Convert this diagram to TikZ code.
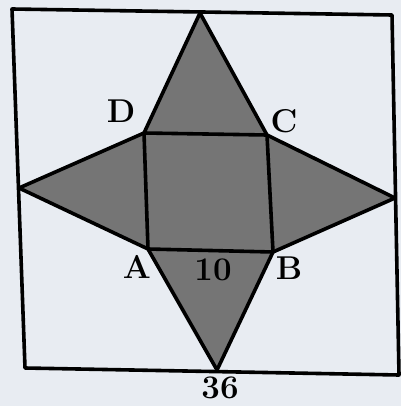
\documentclass[tikz,border=0pt]{standalone}
\usepackage{fontspec}
\usepackage{xcolor}
\definecolor{bgc}{HTML}{E8ECF2}
\definecolor{starfill}{HTML}{757575}
\tikzset{
  edge/.style={draw=black, line width=3.6pt, line join=round},
  lbl/.style={font=\fontsize{33}{36}\selectfont\bfseries, inner sep=0pt}
}
\begin{document}
\begin{tikzpicture}[x=1pt,y=-1pt]
\fill[bgc] (0,0) rectangle (401,406);
\useasboundingbox (0,0) rectangle (401,406);
% outer square corners
\coordinate (TL) at (12,9);
\coordinate (TR) at (392,15);
\coordinate (BR) at (399,375);
\coordinate (BL) at (25,368);
% star vertices
\coordinate (T) at (200,13);
\coordinate (L) at (19,188);
\coordinate (R) at (395,198);
\coordinate (Bt) at (217,370);
% inner square
\coordinate (D) at (144,133);
\coordinate (C) at (267,135);
\coordinate (A) at (148,249);
\coordinate (B) at (273,252);
\draw[edge] (TL) -- (TR) -- (BR) -- (BL) -- cycle;
\fill[starfill] (T) -- (C) -- (R) -- (B) -- (Bt) -- (A) -- (L) -- (D) -- cycle;
\draw[edge] (T) -- (C) -- (R) -- (B) -- (Bt) -- (A) -- (L) -- (D) -- cycle;
\draw[edge] (D) -- (C) -- (B) -- (A) -- cycle;
\node[lbl] (lD) at (121,111) {D};
\node[lbl] (lC) at (284,121) {C};
\node[lbl] (lA) at (137,267) {A};
\node[lbl] (lB) at (289,268) {B};
\node[lbl] (l10) at (213,270) {10};
\node[lbl] (l36) at (220,388) {36};
\end{tikzpicture}
\end{document}
